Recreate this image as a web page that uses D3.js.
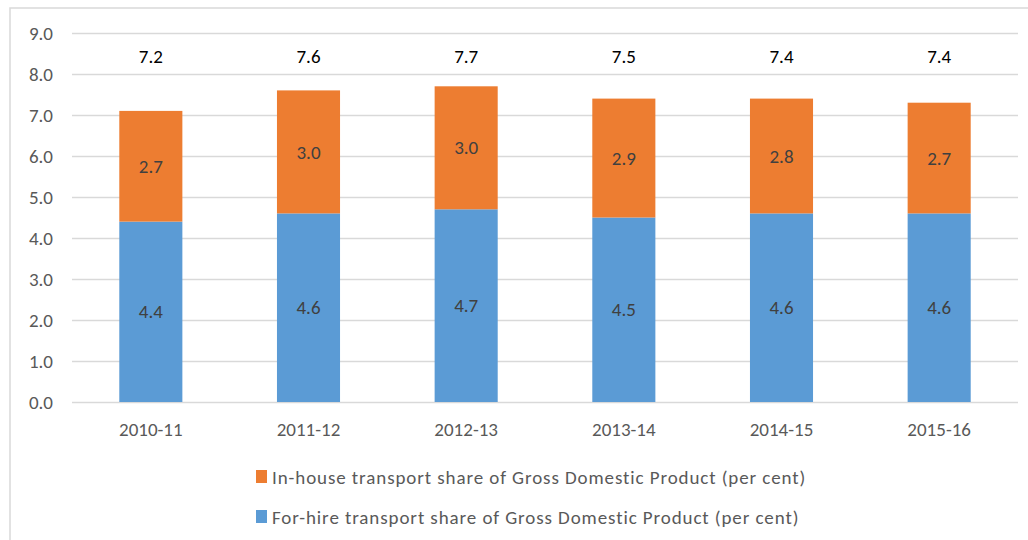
<!DOCTYPE html>
<html>
<head>
<meta charset="utf-8">
<script src="https://cdn.jsdelivr.net/npm/d3@7"></script>
<style>
  body { margin: 0; background: #fff; }
  text { font-family: Carlito, Lato, "Open Sans", sans-serif; }
  .grid line { stroke: #d9d9d9; stroke-width: 1.5; }
  .grid path { display: none; }
</style>
</head>
<body>
<div id="chart"></div>
<script>
var years = ['2010-11', '2011-12', '2012-13', '2013-14', '2014-15', '2015-16'];
var forHire = [4.4, 4.6, 4.7, 4.5, 4.6, 4.6];
var inHouse = [2.7, 3.0, 3.0, 2.9, 2.8, 2.7];
var totals = [7.2, 7.6, 7.7, 7.5, 7.4, 7.4];
var yTicks = [0, 1, 2, 3, 4, 5, 6, 7, 8, 9];
var seriesNames = ['In-house transport share of Gross Domestic Product (per cent)',
                   'For-hire transport share of Gross Domestic Product (per cent)'];

var width = 1028, height = 540;
var svg = d3.select('#chart').append('svg')
            .attr('width', width)
            .attr('height', height);

// chart frame (top + left edge, rest runs off the page)
svg.append('path')
   .attr('d', 'M10,' + height + 'V8H' + width)
   .attr('fill', 'none')
   .attr('stroke', '#d9d9d9')
   .attr('stroke-width', 1.5);

var x = d3.scaleBand().domain(years).range([72, 1018]).paddingInner(0.6).paddingOuter(0.3);
var y = d3.scaleLinear().domain([0, 9]).range([402, 33]);

// gridlines
svg.append('g').attr('class', 'grid')
   .attr('transform', 'translate(72,0)')
   .call(d3.axisLeft(y).tickValues(yTicks).tickSize(-946).tickFormat(''));

// y labels
svg.append('g').selectAll('text')
   .data(yTicks).enter().append('text')
   .attr('x', 53)
   .attr('y', function(d) { return y(d); })
   .attr('dy', '0.35em')
   .attr('text-anchor', 'end')
   .attr('fill', '#595959')
   .style('font-size', '19px')
   .text(function(d) { return d.toFixed(1); });

var stacked = years.map(function(yr, i) {
  return {year: yr, a: forHire[i], b: inHouse[i], total: totals[i]};
});

var bar = svg.append('g').selectAll('g')
             .data(stacked).enter().append('g');

// for-hire (bottom)
bar.append('rect')
   .attr('x', function(d) { return x(d.year); })
   .attr('width', x.bandwidth())
   .attr('y', function(d) { return y(d.a); })
   .attr('height', function(d) { return y(0) - y(d.a); })
   .attr('fill', '#5b9bd5');

// in-house (top)
bar.append('rect')
   .attr('x', function(d) { return x(d.year); })
   .attr('width', x.bandwidth())
   .attr('y', function(d) { return y(d.a + d.b); })
   .attr('height', function(d) { return y(d.a) - y(d.a + d.b); })
   .attr('fill', '#ed7d31');

var cx = function(d) { return x(d.year) + x.bandwidth() / 2; };

bar.append('text')
   .attr('x', cx)
   .attr('y', function(d) { return y(d.a / 2); })
   .attr('dy', '0.35em')
   .attr('text-anchor', 'middle')
   .attr('fill', '#404040')
   .style('font-size', '19px')
   .text(function(d) { return d.a.toFixed(1); });

bar.append('text')
   .attr('x', cx)
   .attr('y', function(d) { return y(d.a + d.b / 2); })
   .attr('dy', '0.35em')
   .attr('text-anchor', 'middle')
   .attr('fill', '#404040')
   .style('font-size', '19px')
   .text(function(d) { return d.b.toFixed(1); });

// totals above
bar.append('text')
   .attr('x', cx)
   .attr('y', y(8.42))
   .attr('dy', '0.35em')
   .attr('text-anchor', 'middle')
   .attr('fill', '#000')
   .style('font-size', '19px')
   .text(function(d) { return d.total.toFixed(1); });

// x labels
svg.append('g').selectAll('text')
   .data(years).enter().append('text')
   .attr('x', function(d) { return x(d) + x.bandwidth() / 2; })
   .attr('y', 429)
   .attr('dy', '0.35em')
   .attr('text-anchor', 'middle')
   .attr('fill', '#595959')
   .style('font-size', '19px')
   .text(function(d) { return d; });

// legend
var legend = svg.append('g').selectAll('g')
                .data(seriesNames).enter().append('g')
                .attr('transform', function(d, i) { return 'translate(256,' + (470 + i * 40) + ')'; });
legend.append('rect')
      .attr('width', 11).attr('height', 13)
      .attr('fill', function(d, i) { return i == 0 ? '#ed7d31' : '#5b9bd5'; });
legend.append('text')
      .attr('x', 16).attr('y', 7)
      .attr('dy', '0.35em')
      .attr('fill', '#595959')
      .style('font-size', '19px')
      .style('letter-spacing', '0.9px')
      .text(function(d) { return d; });
</script>
</body>
</html>
